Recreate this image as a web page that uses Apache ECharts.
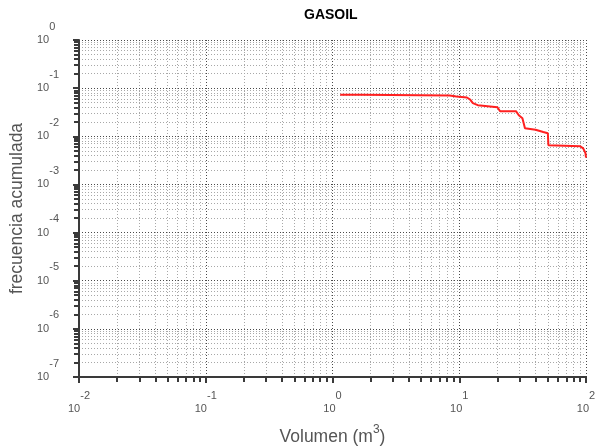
<!DOCTYPE html>
<html>
<head>
<meta charset="utf-8">
<script src="https://cdn.jsdelivr.net/npm/echarts@6/dist/echarts.min.js"></script>
<style>
  html, body { margin: 0; padding: 0; background: #ffffff; }
  #chart { width: 600px; height: 447px; }
</style>
</head>
<body>
<div id="chart"></div>
<script>
// Cumulative frequency of spill volume (GASOIL), log-log
const volumen = [1.15, 1.70, 1.70, 8.4, 9.5, 11.5, 12.2, 12.8, 14.0, 20.0, 21.0, 28.0, 29.5, 31.5, 33.0, 40.0, 46.0, 50.0, 50.5, 90.0, 95.0, 99.0, 100.0];
const frecuencia = [0.0725, 0.0725, 0.0705, 0.0705, 0.067, 0.064, 0.058, 0.049, 0.0443, 0.0402, 0.0332, 0.0332, 0.0274, 0.0237, 0.0147, 0.0137, 0.0123, 0.0116, 0.0065, 0.0062, 0.0056, 0.0045, 0.0036];

// Decade ticks (labelled) for both axes
const xMajor = [0.01, 0.1, 1, 10, 100];
const yMajor = [1e-7, 1e-6, 1e-5, 1e-4, 1e-3, 1e-2, 1e-1, 1];

// 2..9 sub-ticks inside each decade
function subTicks(decades) {
  const out = [];
  for (let i = 0; i < decades.length - 1; i++) {
    for (let m = 2; m <= 9; m++) out.push(Number((m * decades[i]).toPrecision(6)));
  }
  return out;
}
const xMinor = subTicks(xMajor);
const yMinor = subTicks(yMajor);

const AXIS_COLOR = '#3a3a3a';
const TEXT_COLOR = '#555555';

function powLabel(value) {
  const exp = Math.round(Math.log10(value));
  return '{b|10}{e|' + exp + '}';
}
const powRich = {
  b: { fontFamily: 'Liberation Sans, Arial', fontSize: 11, color: TEXT_COLOR, lineHeight: 38, verticalAlign: 'middle' },
  e: { fontFamily: 'Liberation Sans, Arial', fontSize: 11, color: TEXT_COLOR, lineHeight: 12, verticalAlign: 'top' }
};

function majorAxis(ticks, extra) {
  return Object.assign({
    type: 'log',
    logBase: 10,
    axisLine: { show: true, onZero: false, lineStyle: { color: AXIS_COLOR, width: 2 } },
    axisTick: { show: true, customValues: ticks, length: 6, lineStyle: { color: AXIS_COLOR, width: 2 } },
    splitLine: { show: true, lineStyle: { color: '#4a4a4a', width: 1, type: [1, 2] } },
    minorTick: { show: false },
    z: 3
  }, extra);
}
function minorAxis(ticks, extra) {
  return Object.assign({
    type: 'log',
    logBase: 10,
    axisLine: { show: false },
    axisTick: { show: true, customValues: ticks, length: 5, lineStyle: { color: AXIS_COLOR, width: 2 } },
    axisLabel: { show: false },
    splitLine: { show: true, lineStyle: { color: '#a8a8a8', width: 1, type: [1, 2] } },
    z: 2
  }, extra);
}

const nameStyle = {
  fontFamily: 'Liberation Sans, Arial',
  fontSize: 17.5,
  color: TEXT_COLOR
};

const chart = echarts.init(document.getElementById('chart'), null, { renderer: 'canvas' });
chart.setOption({
  animation: false,
  backgroundColor: '#ffffff',
  title: {
    text: 'GASOIL',
    left: 299,
    top: 3,
    textStyle: { fontFamily: 'Liberation Sans, Arial', fontSize: 14, fontWeight: 'bold', color: '#000000' }
  },
  grid: { left: 79, right: 14, top: 40, bottom: 70, containLabel: false, outerBoundsMode: 'none' },
  xAxis: [
    majorAxis(xMajor, {
      min: 0.01, max: 100, position: 'bottom',
      axisLabel: { customValues: xMajor, formatter: powLabel, rich: powRich, margin: 13, showMinLabel: true, showMaxLabel: true, hideOverlap: false },
      name: '{n|Volumen (m}{s|3}{n|)}',
      nameLocation: 'middle',
      nameGap: 47,
      nameTextStyle: {
        rich: {
          n: Object.assign({ lineHeight: 22, verticalAlign: 'bottom' }, nameStyle),
          s: Object.assign({}, nameStyle, { fontSize: 12, lineHeight: 22, verticalAlign: 'top' })
        }
      }
    }),
    minorAxis(xMinor, { min: 0.01, max: 100, position: 'bottom' })
  ],
  yAxis: [
    majorAxis(yMajor, {
      min: 1e-7, max: 1, position: 'left',
      axisLabel: { customValues: yMajor, formatter: powLabel, rich: powRich, margin: 42, align: 'left', showMinLabel: true, showMaxLabel: true, hideOverlap: false },
      name: 'frecuencia acumulada',
      nameLocation: 'middle',
      nameGap: 52,
      nameTextStyle: nameStyle
    }),
    minorAxis(yMinor, { min: 1e-7, max: 1, position: 'left' })
  ],
  series: [{
    type: 'line',
    xAxisIndex: 0,
    yAxisIndex: 0,
    data: volumen.map((v, i) => [v, frecuencia[i]]),
    showSymbol: false,
    symbol: 'none',
    lineStyle: { color: '#ff2020', width: 2 },
    z: 5
  }]
});
</script>
</body>
</html>
